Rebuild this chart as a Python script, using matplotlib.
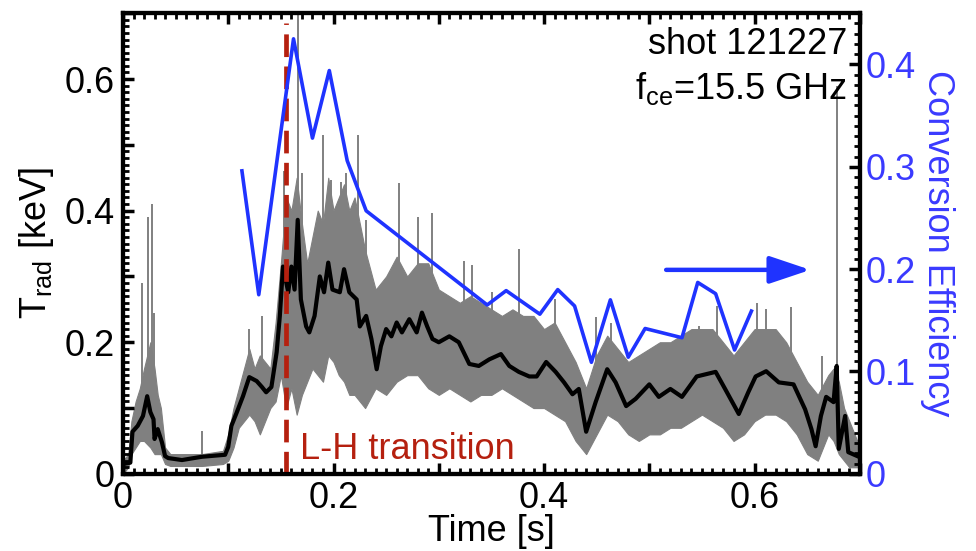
import matplotlib

matplotlib.use("Agg")
import matplotlib.pyplot as plt
from matplotlib.ticker import MultipleLocator, FuncFormatter

plt.rcParams["font.family"] = ["Liberation Sans", "DejaVu Sans"]
plt.rcParams["mathtext.fontset"] = "custom"
plt.rcParams["mathtext.rm"] = "Liberation Sans"
plt.rcParams["mathtext.it"] = "Liberation Sans"

# smoothed T_rad trace (black)
t_smooth = [0.000, 0.007, 0.009, 0.014, 0.019, 0.023, 0.026, 0.029, 0.030, 0.033, 0.037, 0.040,
            0.043, 0.056, 0.075, 0.097, 0.100, 0.103, 0.108, 0.114, 0.120, 0.127, 0.132, 0.136,
            0.141, 0.146, 0.149, 0.152, 0.157, 0.160, 0.163, 0.166, 0.169, 0.174, 0.177, 0.182,
            0.187, 0.191, 0.195, 0.199, 0.206, 0.210, 0.215, 0.222, 0.225, 0.231, 0.236, 0.241,
            0.245, 0.250, 0.255, 0.260, 0.265, 0.272, 0.279, 0.284, 0.289, 0.294, 0.300, 0.310,
            0.319, 0.329, 0.338, 0.348, 0.359, 0.367, 0.376, 0.386, 0.393, 0.402, 0.411, 0.419,
            0.427, 0.433, 0.440, 0.449, 0.460, 0.468, 0.478, 0.487, 0.500, 0.509, 0.520, 0.531,
            0.545, 0.563, 0.572, 0.585, 0.594, 0.601, 0.611, 0.623, 0.637, 0.648, 0.654, 0.658,
            0.663, 0.668, 0.675, 0.678, 0.680, 0.686, 0.689, 0.699]
T_smooth = [0.015, 0.017, 0.064, 0.073, 0.088, 0.118, 0.094, 0.083, 0.053, 0.068, 0.048, 0.027,
            0.024, 0.021, 0.026, 0.029, 0.041, 0.073, 0.093, 0.118, 0.147, 0.141, 0.132, 0.124,
            0.132, 0.185, 0.240, 0.315, 0.276, 0.315, 0.280, 0.386, 0.265, 0.224, 0.215, 0.240,
            0.300, 0.276, 0.321, 0.280, 0.276, 0.311, 0.276, 0.265, 0.224, 0.240, 0.205, 0.159,
            0.194, 0.220, 0.209, 0.230, 0.215, 0.235, 0.215, 0.245, 0.224, 0.205, 0.200, 0.209,
            0.200, 0.167, 0.164, 0.174, 0.182, 0.164, 0.155, 0.148, 0.148, 0.170, 0.155, 0.139,
            0.121, 0.129, 0.064, 0.109, 0.159, 0.139, 0.103, 0.114, 0.136, 0.117, 0.129, 0.117,
            0.148, 0.155, 0.129, 0.091, 0.124, 0.148, 0.156, 0.139, 0.136, 0.098, 0.068, 0.042,
            0.088, 0.117, 0.109, 0.164, 0.038, 0.088, 0.033, 0.026]

# raw signal (grey): envelope of the fluctuations
t_env = [0.000, 0.005, 0.008, 0.012, 0.016, 0.020, 0.026, 0.030, 0.033, 0.036, 0.040, 0.045,
         0.060, 0.075, 0.095, 0.100, 0.105, 0.110, 0.115, 0.120, 0.125, 0.130, 0.135, 0.140,
         0.145, 0.150, 0.155, 0.160, 0.165, 0.170, 0.175, 0.180, 0.185, 0.190, 0.195, 0.200,
         0.205, 0.210, 0.215, 0.220, 0.225, 0.230, 0.240, 0.250, 0.260, 0.270, 0.280, 0.290,
         0.300, 0.310, 0.320, 0.330, 0.340, 0.350, 0.360, 0.370, 0.380, 0.390, 0.400, 0.410,
         0.420, 0.430, 0.440, 0.450, 0.460, 0.470, 0.480, 0.490, 0.500, 0.510, 0.520, 0.530,
         0.540, 0.550, 0.560, 0.570, 0.580, 0.590, 0.600, 0.610, 0.620, 0.630, 0.640, 0.650,
         0.660, 0.670, 0.675, 0.680, 0.685, 0.690, 0.700]
T_upper = [0.020, 0.030, 0.080, 0.110, 0.130, 0.160, 0.200, 0.160, 0.120, 0.100, 0.040, 0.030,
           0.030, 0.030, 0.035, 0.060, 0.100, 0.130, 0.160, 0.190, 0.160, 0.180, 0.170, 0.160,
           0.230, 0.320, 0.420, 0.400, 0.450, 0.380, 0.320, 0.360, 0.400, 0.380, 0.450, 0.400,
           0.420, 0.440, 0.400, 0.420, 0.380, 0.340, 0.280, 0.300, 0.330, 0.300, 0.320, 0.320,
           0.280, 0.270, 0.260, 0.270, 0.260, 0.250, 0.240, 0.250, 0.240, 0.240, 0.220, 0.230,
           0.200, 0.170, 0.130, 0.180, 0.210, 0.190, 0.170, 0.180, 0.190, 0.200, 0.200, 0.210,
           0.220, 0.220, 0.220, 0.200, 0.180, 0.200, 0.220, 0.220, 0.220, 0.200, 0.170, 0.140,
           0.120, 0.150, 0.160, 0.140, 0.100, 0.080, 0.040]
T_lower = [0.000, 0.010, 0.030, 0.040, 0.050, 0.050, 0.040, 0.030, 0.030, 0.030, 0.015, 0.012,
           0.012, 0.012, 0.015, 0.020, 0.040, 0.070, 0.080, 0.090, 0.080, 0.060, 0.080, 0.100,
           0.110, 0.150, 0.100, 0.130, 0.090, 0.120, 0.140, 0.160, 0.150, 0.140, 0.180, 0.170,
           0.150, 0.140, 0.120, 0.120, 0.110, 0.100, 0.130, 0.120, 0.140, 0.150, 0.150, 0.130,
           0.120, 0.130, 0.120, 0.110, 0.120, 0.120, 0.130, 0.120, 0.110, 0.100, 0.100, 0.090,
           0.080, 0.050, 0.030, 0.060, 0.090, 0.080, 0.060, 0.050, 0.060, 0.060, 0.070, 0.070,
           0.080, 0.090, 0.080, 0.070, 0.050, 0.060, 0.080, 0.090, 0.090, 0.080, 0.060, 0.030,
           0.020, 0.060, 0.050, 0.030, 0.020, 0.010, 0.010]
# isolated tall spikes in the raw signal: time, top, base
t_spike = [0.018, 0.024, 0.028, 0.029, 0.035, 0.075, 0.120, 0.132, 0.153, 0.166, 0.170, 0.190,
           0.198, 0.207, 0.212, 0.223, 0.231, 0.262, 0.280, 0.294, 0.324, 0.332, 0.351, 0.376,
           0.410, 0.449, 0.464, 0.547, 0.564, 0.602, 0.611, 0.635, 0.664, 0.678]
T_spike = [0.290, 0.390, 0.410, 0.245, 0.100, 0.065, 0.220, 0.240, 0.460, 0.700, 0.457, 0.515,
           0.447, 0.444, 0.457, 0.515, 0.386, 0.442, 0.391, 0.397, 0.323, 0.318, 0.276, 0.341,
           0.265, 0.239, 0.230, 0.224, 0.255, 0.260, 0.250, 0.253, 0.179, 0.590]
T_spike_base = [0.08, 0.10, 0.09, 0.08, 0.05, 0.025, 0.14, 0.13, 0.30, 0.35, 0.26, 0.28,
                0.30, 0.28, 0.30, 0.26, 0.24, 0.22, 0.23, 0.21, 0.19, 0.17, 0.17, 0.16,
                0.16, 0.11, 0.15, 0.15, 0.15, 0.15, 0.15, 0.14, 0.10, 0.15]

# conversion efficiency (blue, right axis)
t_eff = [0.113, 0.129, 0.162, 0.180, 0.196, 0.213, 0.231, 0.346, 0.364, 0.396, 0.413, 0.429,
         0.445, 0.463, 0.480, 0.496, 0.531, 0.546, 0.563, 0.581, 0.597]
eff = [0.296, 0.175, 0.425, 0.328, 0.394, 0.306, 0.257, 0.165, 0.179, 0.156, 0.180, 0.164,
       0.109, 0.170, 0.114, 0.142, 0.133, 0.187, 0.176, 0.121, 0.159]

T_LH = 0.155
BLUE = "#1f33ff"
TXT_BLUE = "#3a3aff"
RED = "#b5200f"
FS = 26

fig = plt.figure(figsize=(9.76, 5.51), dpi=100)
ax = fig.add_axes([0.126, 0.140, 0.755, 0.836])

ax.fill_between(t_env, T_lower, T_upper, color="#808080", lw=0.8, zorder=1)
ax.vlines(t_spike, T_spike_base, T_spike, color="#808080", lw=1.4, zorder=1)
ax.plot(t_smooth, T_smooth, color="black", lw=3.0, zorder=3)
ax.plot([T_LH, T_LH], [0.0, 0.685], color=RED, lw=3.4, dashes=(4.8, 2.0), zorder=4)
ax.text(0.168, 0.022, "L-H transition", color=RED, fontsize=FS, ha="left", va="baseline")
ax.text(0.688, 0.652, "shot 121227", fontsize=FS, ha="right", va="center")
ax.text(0.688, 0.586, "f$_{\\mathrm{ce}}$=15.5 GHz", fontsize=FS, ha="right", va="center")
ax.annotate("", xy=(0.653, 0.310), xytext=(0.516, 0.310),
            arrowprops=dict(arrowstyle="-|>,head_length=1.25,head_width=0.42", color=BLUE, lw=3.2,
                            mutation_scale=20, shrinkA=0, shrinkB=0))

ax.set_xlim(0, 0.7)
ax.set_ylim(0, 0.7)
ax.xaxis.set_major_locator(MultipleLocator(0.1))
ax.xaxis.set_minor_locator(MultipleLocator(0.01))
ax.yaxis.set_major_locator(MultipleLocator(0.1))
ax.yaxis.set_minor_locator(MultipleLocator(0.01))


def every_other(v, pos):
    k = round(v * 10)
    if k % 2:
        return ""
    return "0" if k == 0 else f"{v:.1f}"


ax.xaxis.set_major_formatter(FuncFormatter(every_other))
ax.yaxis.set_major_formatter(FuncFormatter(every_other))
ax.tick_params(axis="x", which="both", direction="in", top=True, bottom=True)
ax.tick_params(axis="y", which="both", direction="in", left=True, right=False)
ax.tick_params(which="major", length=8, width=2.5, labelsize=FS, pad=6)
ax.tick_params(axis="x", which="major", pad=5)
ax.tick_params(which="minor", length=4, width=2)
ax.set_xlabel("Time [s]", fontsize=FS, labelpad=-1)
ax.set_ylabel("T$_{\\mathrm{rad}}$ [keV]", fontsize=FS, labelpad=6)
for s in ax.spines.values():
    s.set_linewidth(3)

ax2 = ax.twinx()
ax2.plot(t_eff, eff, color=BLUE, lw=2.6, zorder=5)
ax2.set_ylim(0, 0.45)
ax2.yaxis.set_major_locator(MultipleLocator(0.1))
ax2.yaxis.set_minor_locator(MultipleLocator(0.01))
ax2.yaxis.set_major_formatter(FuncFormatter(lambda v, p: "0" if abs(v) < 1e-9 else f"{v:.1f}"))
ax2.tick_params(axis="y", which="both", direction="in", colors="black", labelcolor=TXT_BLUE)
ax2.tick_params(which="major", length=8, width=2.5, labelsize=FS, pad=4)
ax2.tick_params(which="minor", length=4, width=2)
ax2.set_ylabel("Conversion Efficiency", color=TXT_BLUE, fontsize=FS, rotation=-90, labelpad=28)
for s in ax2.spines.values():
    s.set_linewidth(3)

fig.savefig("out.png", dpi=100)
